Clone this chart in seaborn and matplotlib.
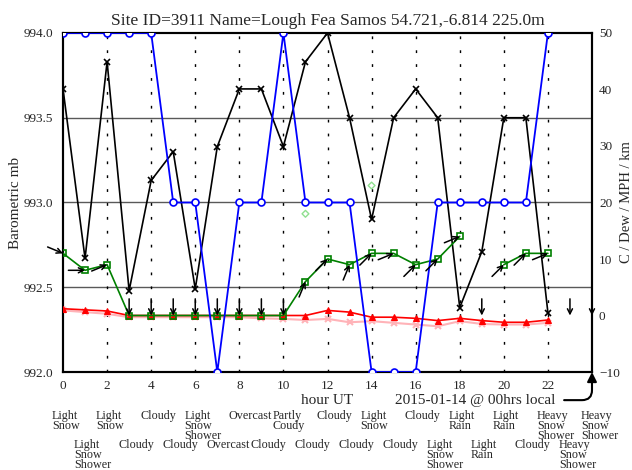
import numpy as np
import pandas as pd
import matplotlib
matplotlib.use("Agg")
import matplotlib.pyplot as plt
import matplotlib.transforms as mtransforms
import seaborn as sns

# hourly observations, hour UT 0..22
hours = list(range(23))
pressure = [993.67, 992.67, 993.83, 992.48, 993.13, 993.30, 992.49, 993.33, 993.67, 993.67,
            993.33, 993.83, 994.00, 993.50, 992.90, 993.50, 993.67, 993.50, 992.38, 992.71,
            993.50, 993.50, 992.35]
visibility = [50, 50, 50, 50, 50, 20, 20, -10, 20, 20, 50, 20, 20, 20, -10, -10, -10,
              20, 20, 20, 20, 20, 50]
wind = [11, 8, 9, 0, 0, 0, 0, 0, 0, 0, 0, 6, 10, 9, 11, 11, 9, 10, 14, np.nan, 9, 11, 11]
temp = [1.2, 1.0, 0.8, 0.0, 0.0, 0.0, 0.0, 0.0, 0.0, 0.0, 0.0, 0.0, 0.9, 0.6, -0.3, -0.3,
        -0.5, -0.9, -0.5, -0.9, -1.2, -1.2, -0.8]
dew = [0.9, 0.6, 0.3, -0.3, -0.3, -0.3, -0.3, -0.3, -0.3, -0.5, -0.6, -0.8, -0.6, -1.2,
       -1.0, -1.3, -1.6, -1.9, -1.0, -1.5, -1.6, -1.6, -1.3]
gust_hours = [11, 14]
gusts = [18, 23]

# wind direction (degrees, from) and forecast text, hours 0..24
wind_hours = list(range(25))
wind_dir = [292.5, 270, 247.5, 0, 0, 0, 0, 0, 0, 0, 0, 202.5, 225, 202.5, 225, 247.5,
            225, 225, 247.5, 0, 225, 225, 247.5, 0, 0]
weather = ["Light\nSnow", "Light\nSnow\nShower", "Light\nSnow", "Cloudy", "Cloudy", "Cloudy",
           "Light\nSnow\nShower", "Overcast", "Overcast", "Cloudy", "Partly\nCoudy", "Cloudy",
           "Cloudy", "Cloudy", "Light\nSnow", "Cloudy", "Cloudy", "Light\nSnow\nShower",
           "Light\nRain", "Light\nRain", "Light\nRain", "Cloudy", "Heavy\nSnow\nShower",
           "Heavy\nSnow\nShower", "Heavy\nSnow\nShower"]

df = pd.DataFrame({"hour": hours, "pressure": pressure, "vis": visibility,
                   "wind": wind, "temp": temp, "dew": dew})
df["seg"] = (df["wind"].isna()).cumsum()

sns.set_style("white")
plt.rcParams["font.family"] = ["Liberation Serif", "DejaVu Serif"]

fig = plt.figure(figsize=(6.32, 4.70), dpi=100)
ax = fig.add_axes([0.0997, 0.2085, 0.837, 0.7213])
ax2 = ax.twinx()

# grid
for yv in [992.5, 993.0, 993.5]:
    ax.axhline(yv, color="0.35", lw=1, zorder=0)
for xv in range(2, 24, 2):
    ax.axvline(xv, color="black", lw=1, ls=(0, (2, 8)), zorder=0)

# pressure
sns.lineplot(data=df, x="hour", y="pressure", ax=ax, color="black", lw=1.2,
             marker="x", markersize=5, mew=1.2, mec="black", zorder=3)

# right axis series
sns.lineplot(data=df, x="hour", y="dew", ax=ax2, color="#ffb3b8", lw=1.5,
             marker="x", markersize=5, mew=1.5, mec="#ffb3b8", zorder=2)
sns.lineplot(data=df, x="hour", y="temp", ax=ax2, color="red", lw=1.2,
             marker="^", markersize=4.5, mec="red", zorder=3)
sns.lineplot(data=df.dropna(subset=["wind"]), x="hour", y="wind", units="seg",
             estimator=None, ax=ax2, color="green", lw=1.2, marker="s", markersize=5,
             mfc="none", mec="green", mew=1.2, zorder=4)
sns.lineplot(data=df, x="hour", y="vis", ax=ax2, color="blue", lw=1.3,
             marker="o", markersize=5, mfc="white", mec="blue", mew=1.2, zorder=5)
sns.scatterplot(x=gust_hours, y=gusts, ax=ax2, marker="D", s=12, facecolor="none",
                edgecolor="#8fe08f", linewidth=1, zorder=4)

# wind arrows, ending at the wind speed point
L = 12
for h, d in zip(wind_hours, wind_dir):
    w = wind[h] if h < len(wind) and not np.isnan(wind[h]) else 0
    b = np.deg2rad((d + 180) % 360)
    ax2.annotate("", xy=(h, w), xycoords="data",
                 xytext=(-L * np.sin(b), -L * np.cos(b)), textcoords="offset points",
                 arrowprops=dict(arrowstyle="->", lw=1.1, color="black",
                                 shrinkA=0, shrinkB=0, mutation_scale=9),
                 annotation_clip=False, zorder=6)

ax.set_xlim(0, 24)
ax.set_ylim(992, 994)
ax2.set_ylim(-10, 50)
ax.set_xticks(range(0, 24, 2))
ax.set_yticks([992.0, 992.5, 993.0, 993.5, 994.0])
ax.set_yticklabels(["992.0", "992.5", "993.0", "993.5", "994.0"])
ax2.set_yticks(range(-10, 60, 10))
ax.tick_params(length=0, labelsize=9.5, pad=6)
ax.tick_params(axis="y", pad=7)
ax2.tick_params(length=0, labelsize=9.5, pad=5)
for a in (ax, ax2):
    for s in a.spines.values():
        s.set_color("black")
        s.set_linewidth(1.5)

ax.set_xlabel("")
ax.set_ylabel("Barometric mb", fontsize=11, labelpad=1)
ax2.set_ylabel("C / Dew / MPH / km", fontsize=10.5, labelpad=0)
ax.set_title("Site ID=3911 Name=Lough Fea Samos 54.721,-6.814 225.0m", fontsize=12.5, pad=6)

trans = mtransforms.blended_transform_factory(ax.transData, ax.transAxes)
ax.text(12, -0.083, "hour UT", transform=trans, ha="center", va="center", fontsize=11)
for h, txt in zip(wind_hours, weather):
    yy = -0.112 if h % 2 == 0 else -0.198
    ax.text(h - 0.5, yy, txt, transform=trans, ha="left", va="top", fontsize=8.7,
            linespacing=0.78, clip_on=False)

ax2.annotate("2015-01-14 @ 00hrs local", xy=(1, 0), xycoords="axes fraction",
             xytext=(0.779, -0.083), textcoords="axes fraction", ha="center", va="center",
             fontsize=11,
             arrowprops=dict(arrowstyle="-|>", connectionstyle="angle,angleA=0,angleB=90,rad=10",
                             lw=1.5, color="black", shrinkA=4, shrinkB=0, mutation_scale=14))

fig.savefig("out.png", dpi=100)
